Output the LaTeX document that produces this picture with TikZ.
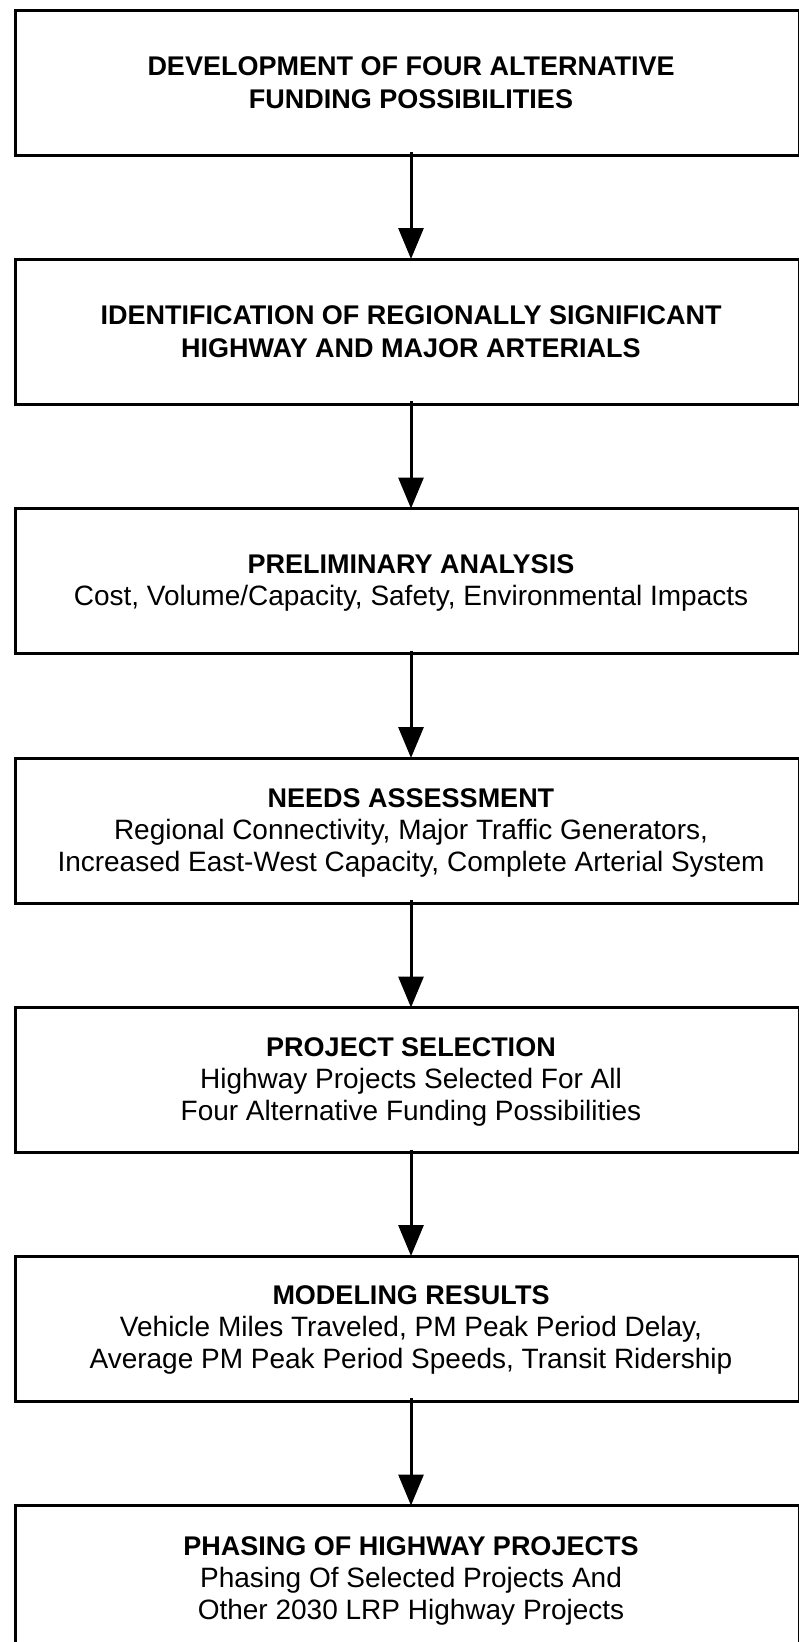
\documentclass[tikz,border=0pt]{standalone}
\usepackage{fontspec}
\setmainfont{Liberation Sans}
\usetikzlibrary{arrows.meta}
\tikzset{
  stagebox/.style={draw=black, line width=3.3pt, fill=none, minimum width=784.5pt, minimum height=145pt, inner sep=0pt, anchor=north west},
  ttl/.style={anchor=base, inner sep=0pt, font=\fontsize{27}{32}\selectfont\bfseries},
  sub/.style={anchor=base, inner sep=0pt, font=\fontsize{28}{32}\selectfont},
  flow/.style={draw=black, line width=3pt, -{Triangle[width=25pt,length=31pt]}, shorten >=-1.5pt, shorten <=-1.5pt}
}
\begin{document}
\begin{tikzpicture}[x=1pt,y=-1pt]
\useasboundingbox (0,0) rectangle (799,1642);
\clip (0,0) rectangle (799,1642);
\fill[white] (0,0) rectangle (799,1642);
% boxes
\node[stagebox] (b1) at (13.5,8.5) {};
\node[stagebox] (b2) at (13.5,257.5) {};
\node[stagebox] (b3) at (13.5,507) {};
\node[stagebox] (b4) at (13.5,756.5) {};
\node[stagebox] (b5) at (13.5,1006) {};
\node[stagebox] (b6) at (13.5,1254.5) {};
\node[stagebox] (b7) at (13.5,1504) {};
% arrow anchor points on box edges at x = 411
\coordinate (a1s) at (411,153.5);  \coordinate (a1e) at (411,257.5);
\coordinate (a2s) at (411,402.5);  \coordinate (a2e) at (411,507);
\coordinate (a3s) at (411,652);    \coordinate (a3e) at (411,756.5);
\coordinate (a4s) at (411,901.5);  \coordinate (a4e) at (411,1006);
\coordinate (a5s) at (411,1151);   \coordinate (a5e) at (411,1254.5);
\coordinate (a6s) at (411,1399.5); \coordinate (a6e) at (411,1504);
\draw[flow] (a1s) -- (a1e);
\draw[flow] (a2s) -- (a2e);
\draw[flow] (a3s) -- (a3e);
\draw[flow] (a4s) -- (a4e);
\draw[flow] (a5s) -- (a5e);
\draw[flow] (a6s) -- (a6e);
% texts
\node[ttl] (t1a) at (411,75) {DEVELOPMENT OF FOUR ALTERNATIVE};
\node[ttl] (t1b) at (411,108) {FUNDING POSSIBILITIES};
\node[ttl] (t2a) at (411,324) {IDENTIFICATION OF REGIONALLY SIGNIFICANT};
\node[ttl] (t2b) at (411,357) {HIGHWAY AND MAJOR ARTERIALS};
\node[ttl] (t3a) at (411,573) {PRELIMINARY ANALYSIS};
\node[sub] (t3b) at (411,605) {Cost, Volume/Capacity, Safety, Environmental Impacts};
\node[ttl] (t4a) at (411,807) {NEEDS ASSESSMENT};
\node[sub] (t4b) at (411,839) {Regional Connectivity, Major Traffic Generators,};
\node[sub] (t4c) at (411,871) {Increased East-West Capacity, Complete Arterial System};
\node[ttl] (t5a) at (411,1056) {PROJECT SELECTION};
\node[sub] (t5b) at (411,1088) {Highway Projects Selected For All};
\node[sub] (t5c) at (411,1120) {Four Alternative Funding Possibilities};
\node[ttl] (t6a) at (411,1304) {MODELING RESULTS};
\node[sub] (t6b) at (411,1336) {Vehicle Miles Traveled, PM Peak Period Delay,};
\node[sub] (t6c) at (411,1368) {Average PM Peak Period Speeds, Transit Ridership};
\node[ttl] (t7a) at (411,1555) {PHASING OF HIGHWAY PROJECTS};
\node[sub] (t7b) at (411,1587) {Phasing Of Selected Projects And};
\node[sub] (t7c) at (411,1619) {Other 2030 LRP Highway Projects};
\end{tikzpicture}
\end{document}
